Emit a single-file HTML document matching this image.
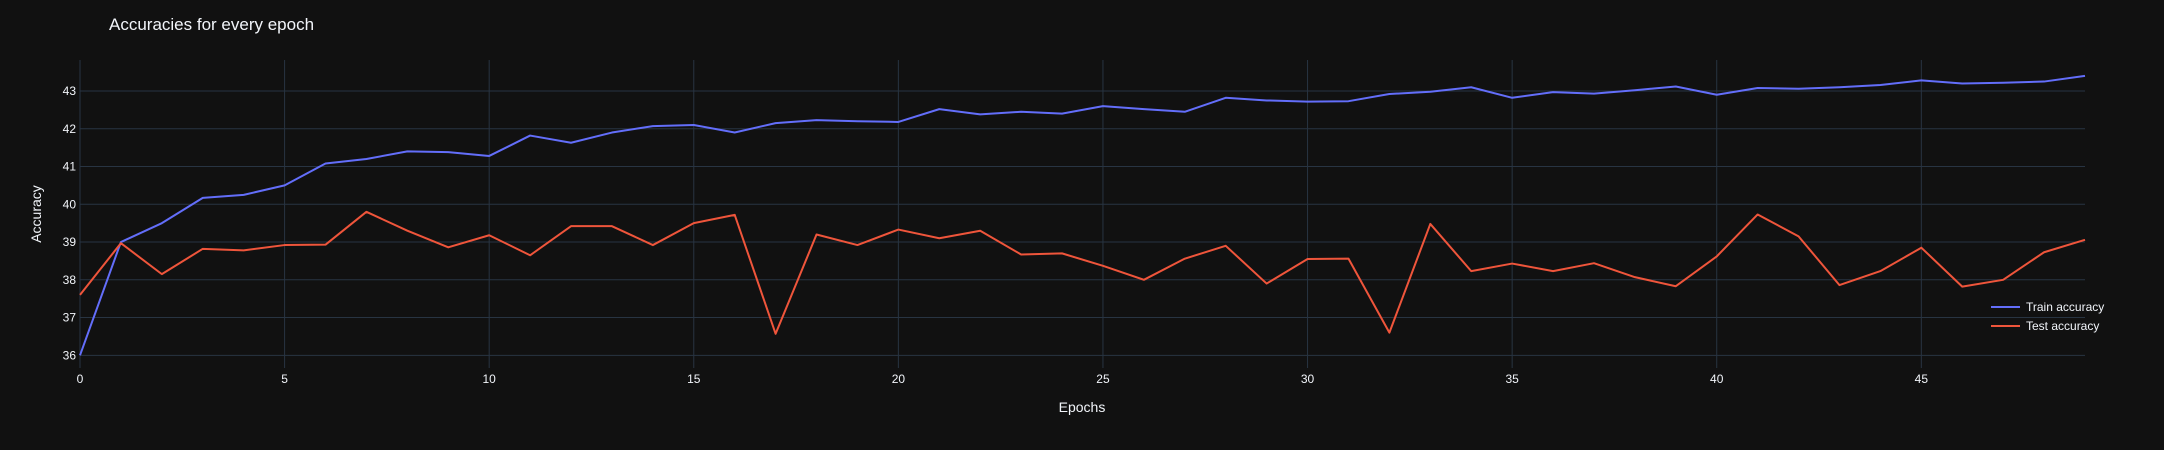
<!DOCTYPE html>
<html><head><meta charset="utf-8"><style>
html,body{margin:0;padding:0;background:#111111;}
svg{display:block;font-family:"Liberation Sans",sans-serif;}
</style></head><body>
<svg id="chart" width="2164" height="450">
<rect width="2164" height="450" fill="#111111"/>
<text x="109" y="30" fill="#f2f5fa" font-size="17">Accuracies for every epoch</text>
<g id="grid"></g>
<g id="series"></g>
<g id="ticks"></g>
<text x="1082" y="412" fill="#f2f5fa" font-size="14" text-anchor="middle">Epochs</text>
<text x="0" y="0" transform="translate(41,214) rotate(-90)" fill="#f2f5fa" font-size="14" text-anchor="middle">Accuracy</text>
<g>
<g>
<line x1="1991" y1="307" x2="2020" y2="307" stroke="#636efa" stroke-width="2"/>
<text x="2026" y="311" fill="#f2f5fa" font-size="12">Train accuracy</text></g>
<g>
<line x1="1991" y1="326" x2="2020" y2="326" stroke="#EF553B" stroke-width="2"/>
<text x="2026" y="330" fill="#f2f5fa" font-size="12">Test accuracy</text></g>
</g>
</svg>
<script>
const train = [36.0,39.0,39.5,40.17,40.25,40.5,41.08,41.2,41.4,41.38,41.28,41.82,41.63,41.9,42.07,42.1,41.9,42.15,42.23,42.2,42.18,42.52,42.38,42.45,42.4,42.6,42.52,42.45,42.82,42.75,42.72,42.73,42.92,42.98,43.1,42.82,42.97,42.93,43.02,43.12,42.9,43.08,43.06,43.1,43.16,43.28,43.2,43.22,43.25,43.4];
const test = [37.6,38.97,38.15,38.82,38.78,38.92,38.93,39.8,39.3,38.86,39.18,38.65,39.42,39.42,38.92,39.5,39.72,36.57,39.2,38.92,39.33,39.1,39.3,38.67,38.7,38.37,38.0,38.56,38.9,37.9,38.55,38.56,36.6,39.48,38.23,38.43,38.23,38.44,38.07,37.83,38.62,39.73,39.15,37.86,38.23,38.85,37.82,38.0,38.73,39.06];
const xTicks = [0,5,10,15,20,25,30,35,40,45];
const yTicks = [36,37,38,39,40,41,42,43];
const NS="http://www.w3.org/2000/svg";
const X0=80,X1=2085,YT=60,YB=368;
function xs(e){return X0+(e-0)/(49-0)*(X1-X0);}
function ys(v){return 91+(43-v)*37.76;}
function mk(tag,attrs,parent){const el=document.createElementNS(NS,tag);for(const k in attrs)el.setAttribute(k,attrs[k]);parent.appendChild(el);return el;}
const grid=document.getElementById('grid'),ticks=document.getElementById('ticks'),series=document.getElementById('series');
yTicks.forEach(v=>{
 const l=mk('line',{x1:X0,x2:X1,y1:ys(v),y2:ys(v),stroke:'#283442','stroke-width':1},grid);
 
 
 const t=mk('text',{x:X0-4,y:ys(v)+4,fill:'#f2f5fa','font-size':12,'text-anchor':'end'},ticks);
 t.textContent=v;
 
 
});
xTicks.forEach(v=>{
 const l=mk('line',{x1:xs(v),x2:xs(v),y1:YT,y2:YB,stroke:'#283442','stroke-width':1},grid);
 
 
 const t=mk('text',{x:xs(v),y:383,fill:'#f2f5fa','font-size':12,'text-anchor':'middle'},ticks);
 t.textContent=v;
 
 
});
function line(data,color,name){
 const p=mk('polyline',{points:data.map((v,i)=>xs(i)+','+ys(v)).join(' '),fill:'none',stroke:color,'stroke-width':2,'stroke-linejoin':'round'},series);
 
 
}
line(train,'#636efa','train-accuracy-line');
line(test,'#EF553B','test-accuracy-line');
</script>
</body></html>
